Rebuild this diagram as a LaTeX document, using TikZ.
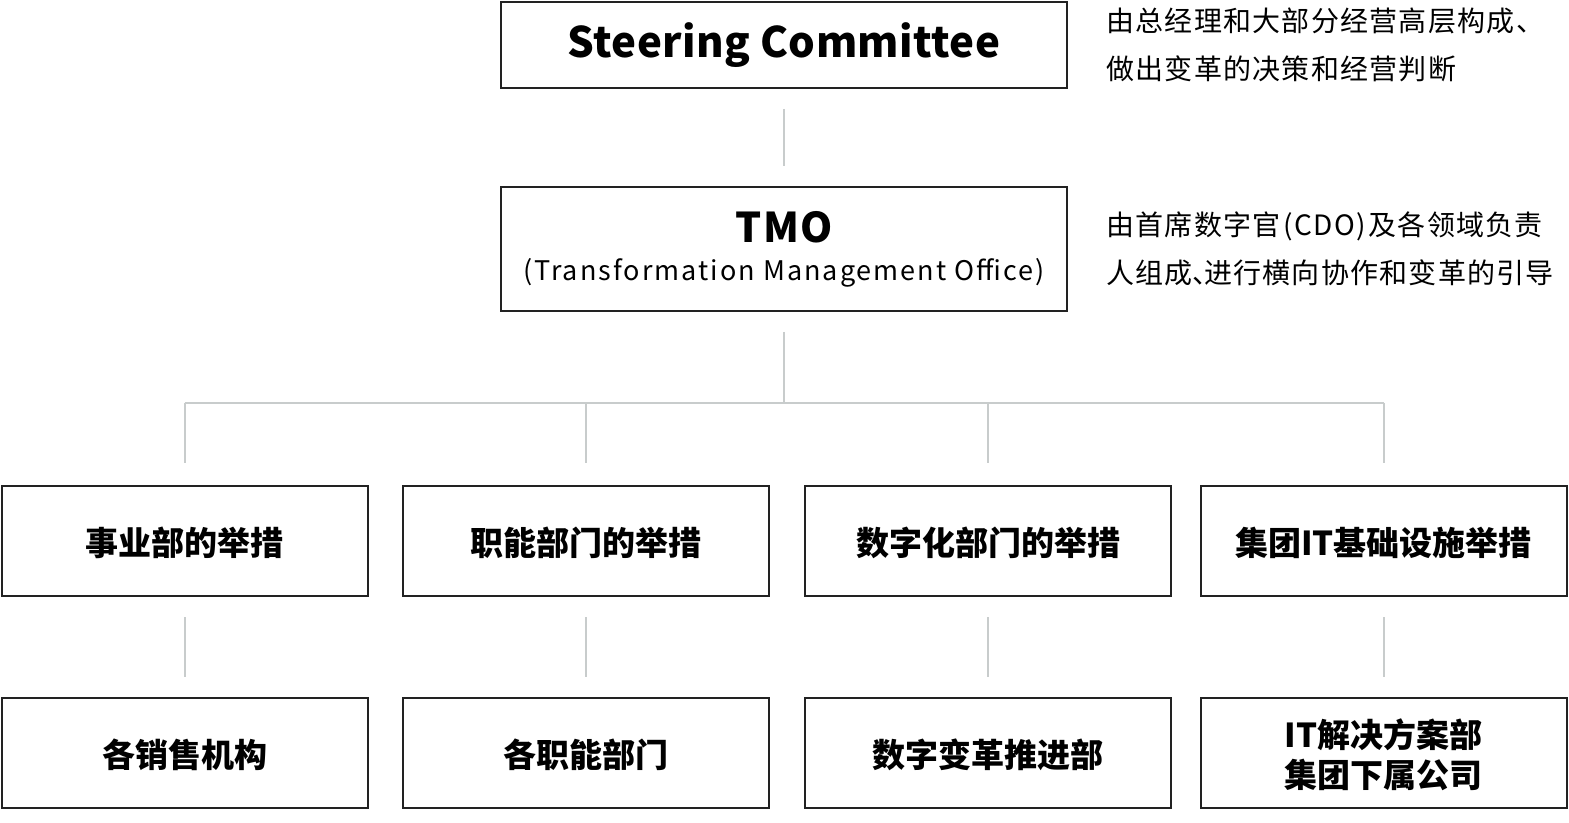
\documentclass[tikz,border=0pt]{standalone}
\usepackage{fontspec}
\setmainfont{Noto Sans CJK SC}
\usetikzlibrary{positioning}
\definecolor{boxline}{RGB}{34,34,34}
\definecolor{linkgray}{RGB}{200,204,204}
\newcommand{\spaced}[1]{\addfontfeatures{LetterSpace=#1}}
\begin{document}
\begin{tikzpicture}[x=0.5pt,y=-0.5pt]
    \tikzstyle{box} = [draw=boxline, line width=1pt, minimum height=55pt, inner sep=0pt, font=\fontsize{16.5}{20}\selectfont\bfseries, align=center]
    \tikzstyle{top} = [box, minimum width=283pt]
    \tikzstyle{unit} = [box, minimum width=183pt, text depth=-2pt]
    \tikzstyle{note} = [inner sep=0pt, align=left, font=\fontsize{14}{24}\selectfont\spaced{4.5}]
    \tikzstyle{link} = [draw=linkgray, line width=1pt]
    \useasboundingbox (0,0) rectangle (1569,823);
    \node[top, minimum height=43pt, font=\fontsize{21}{26}\selectfont\bfseries\spaced{1}] (sc) at (784,45) {Steering Committee};
    \node[top, minimum height=62pt] (tmo) at (784,249) {{\fontsize{20.5}{22}\selectfont\spaced{4}TMO}\\[-1pt]
      {\fontsize{13.5}{20}\selectfont\mdseries\spaced{7.5}(Transformation Management Office)}};
    \node[note, right=19pt of sc] (scnote) {由总经理和大部分经营高层构成、\\做出变革的决策和经营判断};
    \node[note, right=19pt of tmo] (tmonote) {由首席数字官\hspace{1.5pt}(CDO)\hspace{1.5pt}及各领域负责\\人组成\makebox[0.4em][l]{、}进行横向协作和变革的引导};
    \node[unit] (a1) at (184.5,541) {事业部的举措};
    \node[unit] (a2) at (586,541) {职能部门的举措};
    \node[unit] (a3) at (988,541) {数字化部门的举措};
    \node[unit] (a4) at (1383.5,541) {集团IT基础设施举措};
    \node[unit] (b1) at (184.5,753) {各销售机构};
    \node[unit] (b2) at (586,753) {各职能部门};
    \node[unit] (b3) at (988,753) {数字变革推进部};
    \node[unit] (b4) at (1383.5,753) {IT解决方案部\\集团下属公司};
    \coordinate (bus) at (784,403);
    \draw[link, shorten <=10pt, shorten >=10pt] (sc.south) -- (tmo.north);
    \draw[link, shorten <=10pt] (tmo.south) -- (bus);
    \draw[link] (bus -| a1.north) -- (bus -| a4.north);
    \foreach \n in {1,...,4} {
      \draw[link, shorten >=11pt] (bus -| a\n.north) -- (a\n.north);
      \draw[link, shorten <=10pt, shorten >=10pt] (a\n.south) -- (b\n.north);
    }
\end{tikzpicture}
\end{document}
